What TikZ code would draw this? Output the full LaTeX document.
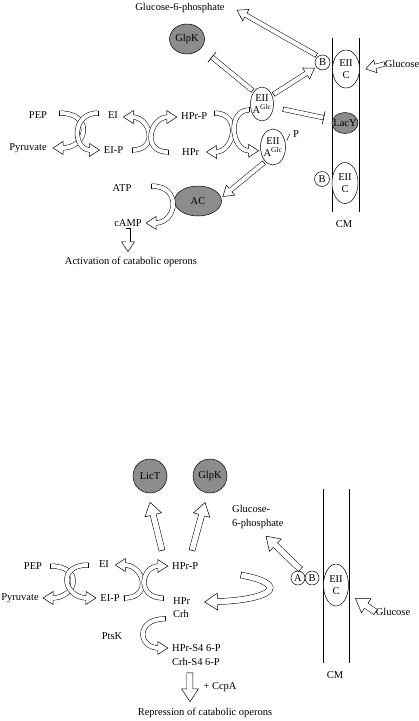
\documentclass[tikz,border=0pt]{standalone}
\usepackage{fontspec}
\setmainfont{Liberation Serif}
\usepackage{tikz}
\usetikzlibrary{positioning,calc,shapes.geometric,decorations.markings}

\newlength\hlen \setlength\hlen{10pt}
\newlength\hwid \setlength\hwid{6.5pt}
\newlength\sgap \setlength\sgap{4pt}

% hollow block arrow, #2 is the path
\newcommand\hollowarrow[2][]{%
  \begin{scope}[#1]
    \draw[shaft] #2;
    \path[headmark] #2;
  \end{scope}}
% hollow shaft ending in a bar
\newcommand\hollowbar[2][]{%
  \begin{scope}[#1]
    \draw[shaft, shorten >=0pt] #2;
    \path[barmark] #2;
  \end{scope}}

\begin{document}
\begin{tikzpicture}[x=1pt, y=-1pt, font=\fontsize{10.5}{12.5}\selectfont,
    lbl/.style={inner sep=0pt},
    ell/.style={ellipse, draw, line width=0.5pt, inner sep=0pt, outer sep=2pt},
    prot/.style={ell, fill=black!45},
    dom/.style={circle, draw, line width=0.5pt, inner sep=0pt, outer sep=2pt, minimum size=15pt},
    big/.style={/utils/exec={\setlength\hlen{13pt}\setlength\hwid{8.5pt}\setlength\sgap{5.5pt}}},
    shaft/.style={line width=0.5pt, double=white, double distance=\sgap, shorten >=\hlen-0.8pt},
    tailcap/.style={line width=0.5pt, line cap=rect},
    headmark/.style={decorate, decoration={markings,
      mark=at position 0 with {\draw[tailcap] (0pt,-0.5\sgap-0.25pt) -- (0pt,0.5\sgap+0.25pt);},
      mark=at position -0.2pt with {\fill[white] (0pt,0pt) -- (-\hlen,\hwid) -- (-\hlen,-\hwid) -- cycle;
        \draw[line width=0.5pt] (-\hlen,0.5\sgap+0.25pt) -- (-\hlen,\hwid) -- (0pt,0pt) -- (-\hlen,-\hwid) -- (-\hlen,-0.5\sgap-0.25pt);}}},
    barmark/.style={decorate, decoration={markings,
      mark=at position 0 with {\draw[tailcap] (0pt,-0.5\sgap-0.25pt) -- (0pt,0.5\sgap+0.25pt);},
      mark=at position -0.2pt with {\draw[line width=0.6pt] (0pt,-6.5pt) -- (0pt,6.5pt);}}},
]
\useasboundingbox (0,0) rectangle (419,721);

% ---------- upper panel ----------
\foreach \x in {332,359} {
    \draw[line width=0.5pt] (\x,38) -- (\x,212);
}
\node[lbl] (g6p) at (180,8) {Glucose-6-phosphate};
\node[prot, minimum width=35pt, minimum height=30pt, label=center:GlpK] (glpk) at (187,39) {};
\node[dom] (b1) at (322.5,62.5) {B};
\node[ell, fill=white, minimum width=27pt, minimum height=38pt, label={[align=center]center:EII\\C}] (eiic1) at (346,69) {};
\node[lbl] (glc) at (402,64) {Glucose};
\node[prot, minimum width=26pt, minimum height=21pt, label=center:LacY] (lacy) at (345,123) {};
\node[dom] (b2) at (322,179) {B};
\node[ell, fill=white, minimum width=26pt, minimum height=41pt, label={[align=center]center:EII\\C}] (eiic2) at (345,183) {};
\node[lbl] (cm1) at (344,224) {CM};
\node[ell, minimum width=23pt, minimum height=34pt, label={[align=center]center:EII\\A\textsuperscript{Glc}}] (eiia) at (262,104) {};
\node[ell, minimum width=25pt, minimum height=36pt, label={[align=center]center:EII\\A\textsuperscript{Glc}}] (eiiap) at (273,147) {};
\node[lbl] (pp) at (296,134) {P};
\draw[line width=0.5pt] (eiiap.25) -- ([shift={(-3,0)}]pp.west);

\node[lbl] (pep) at (38,115) {PEP};
\node[lbl] (pyr) at (28,148) {Pyruvate};
\node[lbl] (ei) at (113,115) {EI};
\node[lbl] (eip) at (113.5,150) {EI-P};
\node[lbl, anchor=west] (hprp) at (181,116) {HPr-P};
\node[lbl, anchor=west] (hpr) at (182,152) {HPr};
\node[lbl] (atp) at (122,188) {ATP};
\node[prot, minimum width=47pt, minimum height=30pt, label=center:AC] (ac) at (198,201) {};
\node[lbl] (camp) at (128,223) {cAMP};
\node[lbl] (act) at (131,262) {Activation of catabolic operons};

% crossing pairs
\hollowarrow{([shift={(12,-2)}]pep.east) .. controls +(35,0) and +(35,0) .. ([shift={(6,0)}]pyr.east)}
\hollowarrow{([shift={(-10,-2)}]ei.west) .. controls +(-27,0) and +(-27,0) .. ([shift={(-4,0)}]eip.west)}
\hollowarrow{([shift={(9,0)}]eip.east) .. controls +(27,0) and +(27,0) .. ([shift={(5,2)}]ei.east)}
\hollowarrow{([shift={(-14,0)}]hpr.west) .. controls +(-27,0) and +(-27,0) .. ([shift={(-4,1)}]hprp.west)}
\hollowarrow{([shift={(7,-3)}]hprp.east) .. controls +(28,0) and +(28,0) .. ([shift={(7,0)}]hpr.east)}
\hollowarrow{(eiia.205) .. controls +(-22,0) and +(-28,0) .. (eiiap.195)}
\hollowarrow{([shift={(20,-2)}]atp.east) .. controls +(31,0) and +(31,0) .. ([shift={(4,0)}]camp.east)}

% straight arrows
\hollowarrow{(b1.130) -- ([shift={(12,2)}]g6p.east)}
\hollowarrow{(eiia.40) -- (b1.215)}
\hollowarrow{(eiiap.240) -- (ac.10)}
\hollowarrow{(glc.west) -- ([shift={(4,0)}]eiic1.east)}
\hollowarrow{([shift={(0,2)}]camp.south) -- ([shift={(-3,-5)}]act.north)}
\hollowbar{(eiia.125) -- ($(glpk.-34)!12pt!(eiia.125)$)}
\hollowbar{($(eiia.-15)!8pt!(lacy.165)$) -- ($(lacy.165)!7pt!(eiia.-15)$)}

% ---------- lower panel ----------
\foreach \x in {323,349} {
    \draw[line width=0.5pt] (\x,489) -- (\x,663);
}
\node[prot, circle, minimum size=34pt, label=center:LicT] (lict) at (150,476) {};
\node[prot, circle, minimum size=34pt, label=center:GlpK] (glpk2) at (210,476) {};
\node[lbl, align=left, anchor=west, font=\fontsize{10.5}{14}\selectfont] (g6p2) at (232,517) {Glucose-\\6-phosphate};
\node[dom, minimum size=14pt] (a) at (298,578) {A};
\node[dom, minimum size=14pt] (b3) at (312,578) {B};
\node[ell, fill=white, minimum width=25pt, minimum height=42pt, label={[align=center]center:EII\\C}] (eiic3) at (336,585) {};
\node[lbl] (glc2) at (393,612) {Glucose};
\node[lbl] (cm2) at (335,675) {CM};

\node[lbl] (pep2) at (33,566) {PEP};
\node[lbl] (pyr2) at (20,598) {Pyruvate};
\node[lbl] (ei2) at (104,564) {EI};
\node[lbl] (eip2) at (110,598) {EI-P};
\node[lbl, anchor=west] (hprp2) at (172,566) {HPr-P};
\node[lbl, anchor=west] (hpr2) at (173,601) {HPr};
\node[lbl, anchor=west] (crh) at (173,614) {Crh};
\node[lbl] (ptsk) at (112,636) {PtsK};
\node[lbl, anchor=west] (hprs) at (172,648) {HPr-S4 6-P};
\node[lbl, anchor=west] (crhs) at (172,662) {Crh-S4 6-P};
\node[lbl] (ccpa) at (220,687) {+ CcpA};
\node[lbl] (repr) at (205,713) {Repression of catabolic operons};

% crossing pairs
\hollowarrow{([shift={(8,0)}]pep2.east) .. controls +(34,0) and +(34,0) .. ([shift={(4,0)}]pyr2.east)}
\hollowarrow{([shift={(-11,1)}]ei2.west) .. controls +(-32,0) and +(-32,0) .. ([shift={(-4,0)}]eip2.west)}
\hollowarrow{([shift={(4,0)}]eip2.east) .. controls +(29,0) and +(29,0) .. ([shift={(6,1)}]ei2.east)}
\hollowarrow{([shift={(-10,-3)}]hpr2.west) .. controls +(-27,0) and +(-27,0) .. ([shift={(-4,0)}]hprp2.west)}
\hollowarrow{([shift={(-8,1)}]crh.south west) .. controls +(-30,0) and +(-30,0) .. ([shift={(-4,0)}]hprs.west)}

% block arrows
\hollowarrow[big]{([shift={(-48,-3)}]a.west) .. controls +(52,10) and +(65,-2) .. ([shift={(14,1)}]hpr2.east)}
\hollowarrow[big]{([shift={(-10,-12)}]hprp2.north west) -- ([shift={(0,7)}]lict.south)}
\hollowarrow[big]{([shift={(20,-12)}]hprp2.north west) -- ([shift={(0,8)}]glpk2.255)}
\hollowarrow[big]{(a.75) -- ([shift={(8,7)}]g6p2.south)}
\hollowarrow[big]{(glc2.west) -- ([shift={(6,4)}]eiic3.-35)}
\hollowarrow[big]{([shift={(-6,7)}]crhs.south) -- ([shift={(-15,-6)}]repr.north)}
\end{tikzpicture}
\end{document}
